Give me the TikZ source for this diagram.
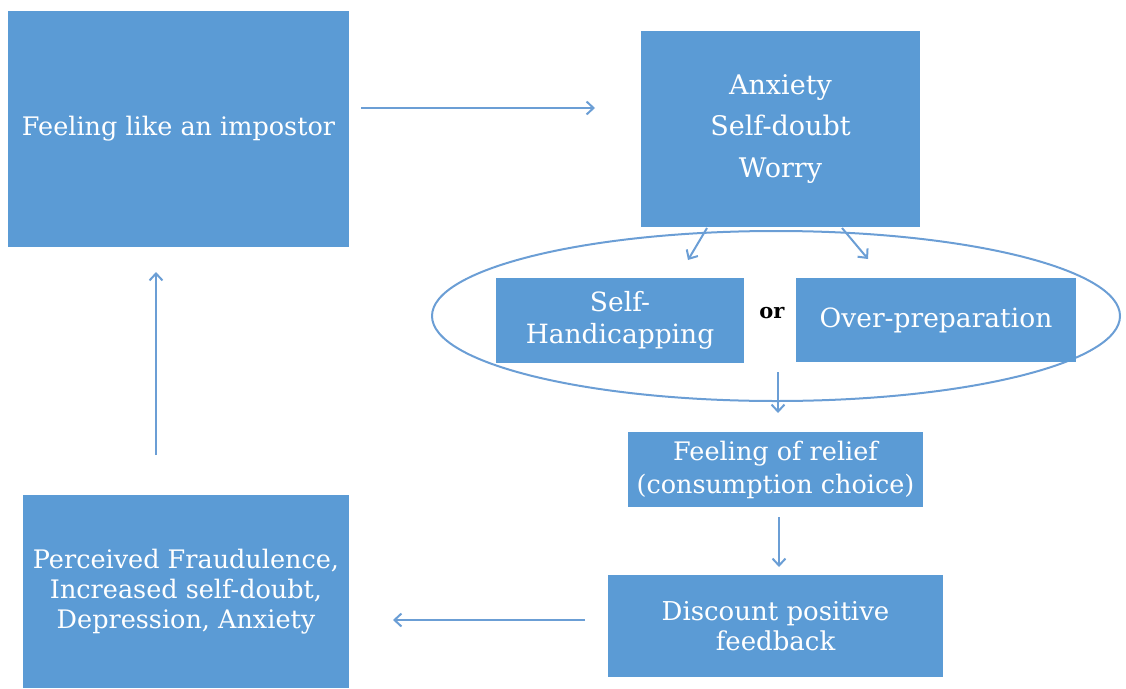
\documentclass[tikz,border=0pt]{standalone}
\usepackage{fontspec}
\setmainfont{DejaVu Serif}
\usetikzlibrary{arrows.meta,shapes.geometric}
\definecolor{boxblue}{HTML}{5B9BD5}
\definecolor{lineblue}{HTML}{6B9ED5}
\tikzset{
  box/.style={rectangle, fill=boxblue, draw=none, text=white, align=center, inner sep=0pt},
  conn/.style={draw=lineblue, line width=2pt, -{Straight Barb[length=7pt,width=13pt]}},
}
\begin{document}
\begin{tikzpicture}[x=1pt,y=-1pt]
\useasboundingbox (0,0) rectangle (1126,688);
\node[box, minimum width=341pt, minimum height=236pt, font=\fontsize{25.5}{30}\selectfont] (imp) at (178.5,129) {Feeling like an impostor};
\node[box, minimum width=279pt, minimum height=196pt, font=\fontsize{27}{41.5}\selectfont] (anx) at (780.5,129) {Anxiety\\Self-doubt\\Worry};
\node[draw=lineblue, line width=2pt, ellipse, minimum width=688pt, minimum height=170pt, inner sep=0pt] (ell) at (776,316) {};
\node[box, minimum width=248pt, minimum height=85pt, font=\fontsize{26.5}{32}\selectfont] (sh) at (620,320.5) {Self-\\Handicapping};
\node[box, minimum width=280pt, minimum height=84pt, font=\fontsize{26.5}{30}\selectfont] (op) at (936,320) {Over-preparation};
\node[font=\bfseries\fontsize{21}{24}\selectfont, text=black] (or) at (772,313) {or};
\node[box, minimum width=295pt, minimum height=75pt, font=\fontsize{25.5}{33}\selectfont] (rel) at (775.5,469.5) {Feeling of relief\\(consumption choice)};
\node[box, minimum width=335pt, minimum height=102pt, font=\fontsize{26}{30}\selectfont] (dis) at (775.5,626) {Discount positive\\feedback};
\node[box, minimum width=326pt, minimum height=193pt, font=\fontsize{25.5}{30}\selectfont] (per) at (186,591.5) {Perceived Fraudulence,\\Increased self-doubt,\\Depression, Anxiety};
\coordinate (a1s) at (361,108);
\coordinate (a1e) at (595,108);
\draw[conn] (a1s) -- (a1e);
\coordinate (a2s) at (707,228);
\coordinate (a2e) at (688,260);
\draw[conn] (a2s) -- (a2e);
\coordinate (a3s) at (842,228);
\coordinate (a3e) at (868,259);
\draw[conn] (a3s) -- (a3e);
\coordinate (a4s) at (778,372);
\coordinate (a4e) at (778,413);
\draw[conn] (a4s) -- (a4e);
\coordinate (a5s) at (779,517);
\coordinate (a5e) at (779,567);
\draw[conn] (a5s) -- (a5e);
\coordinate (a6s) at (585,620);
\coordinate (a6e) at (393,620);
\draw[conn] (a6s) -- (a6e);
\coordinate (a7s) at (156,455);
\coordinate (a7e) at (156,272);
\draw[conn] (a7s) -- (a7e);
\end{tikzpicture}
\end{document}
